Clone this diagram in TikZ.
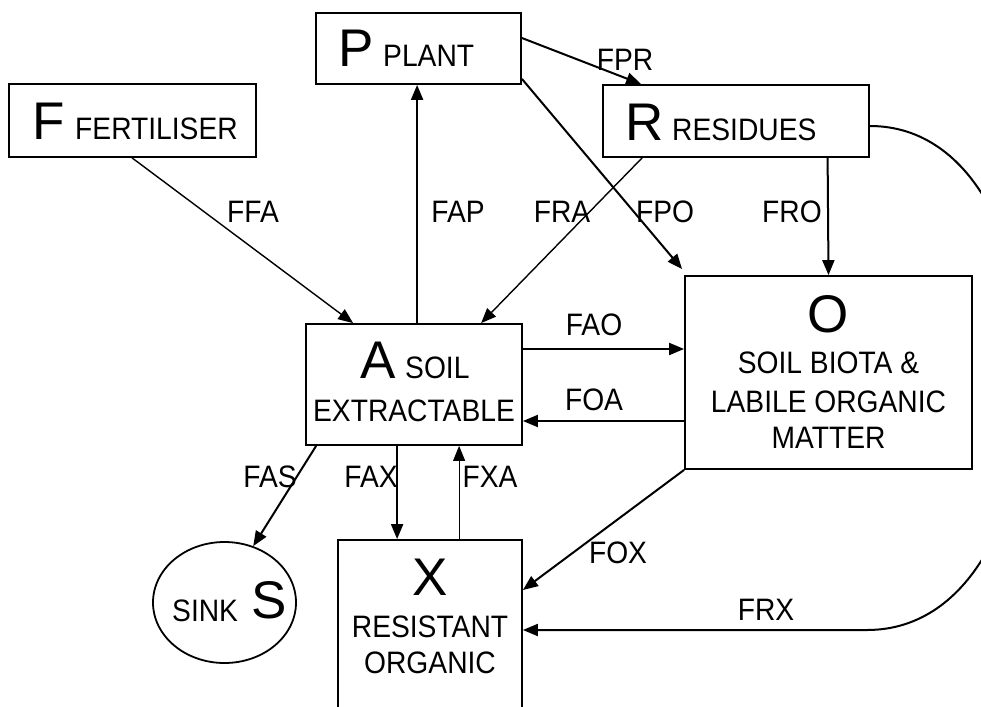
\documentclass[tikz,border=0pt]{standalone}
\usepackage{fontspec}
\setmainfont{Liberation Sans}[FakeStretch=0.91]
\newfontfamily\bigfam{Liberation Sans}
\usetikzlibrary{arrows.meta,shapes.geometric}
\begin{document}
\begin{tikzpicture}[x=1pt,y=-1pt,
  box/.style={draw, line width=1.8pt, rectangle, inner sep=0pt},
  flow/.style={line width=2pt, -{Triangle[length=15pt,width=12pt]}},
  thinflow/.style={flow, line width=1.4pt},
  lbl/.style={inner sep=0pt, font=\fontsize{31}{36}\selectfont},
  big/.style={inner sep=0pt, anchor=base west, font=\bigfam\fontsize{53}{60}\selectfont},
  sm/.style={inner sep=0pt, font=\fontsize{31}{36}\selectfont},
]
\useasboundingbox (0,0) rectangle (981,706);
\clip (0,0) rectangle (981,706);
\fill[white] (0,0) rectangle (981,706);

% boxes
\node[box, minimum width=205, minimum height=71] (P) at (418.5,48.5) {};
\node[box, minimum width=266, minimum height=72] (R) at (736,121) {};
\node[box, minimum width=247, minimum height=73] (F) at (132.5,120.5) {};
\node[box, minimum width=216, minimum height=121] (A) at (414,384.5) {};
\node[box, minimum width=287, minimum height=193] (O) at (828.5,372.5) {};
\node[box, minimum width=184, minimum height=220] (X) at (430,650) {};
\node[draw, line width=1.8pt, ellipse, inner sep=0pt, minimum width=143, minimum height=121] (S) at (224.5,602.5) {};

% box texts
\node[big] (tP) at (338,67) {P};
\node[sm, anchor=base west] (tPl) at (383,67) {PLANT};
\node[big] (tF) at (32,139) {F};
\node[sm, anchor=base west] (tFl) at (75,139) {FERTILISER};
\node[big] (tR) at (625,140) {R};
\node[sm, anchor=base west] (tRl) at (672,140) {RESIDUES};
\node[big] (tA) at (360,378) {A};
\node[sm, anchor=base west] (tAl) at (405,378) {SOIL};
\node[sm, anchor=base] (tAl2) at (414,421) {EXTRACTABLE};
\node[big, anchor=base] (tO) at (828.5,332) {O};
\node[sm, anchor=base] (tO1) at (828.5,373) {SOIL BIOTA \&};
\node[sm, anchor=base] (tO2) at (828.5,412) {LABILE ORGANIC};
\node[sm, anchor=base] (tO3) at (828.5,448) {MATTER};
\node[big, anchor=base] (tX) at (430,595) {X};
\node[sm, anchor=base] (tX1) at (430,637) {RESISTANT};
\node[sm, anchor=base] (tX2) at (430,673) {ORGANIC};
\node[sm, anchor=base west] (tS) at (172,621) {SINK};
\node[big] (tS2) at (251,618) {S};

% connectors
\draw[thinflow] ([xshift=124pt]F.south west) -- ([xshift=48pt]A.north west);
\draw[flow] ([xshift=112pt]A.north west) -- ([xshift=102pt]P.south west);
\draw[thinflow] ([xshift=40pt]R.south west) -- ([xshift=176pt]A.north west);
\draw[flow] ([yshift=6pt]P.south east) -- ([xshift=-2pt,yshift=6pt]O.north west);
\draw[flow] ([yshift=10.5pt]P.east) -- ([xshift=39pt]R.north west);
\draw[flow] ([xshift=225.5pt]R.south west) -- (O.north);
\draw[flow] ([yshift=35.5pt]A.east) -- ([yshift=23.5pt]O.west);
\draw[flow] ([yshift=-48.5pt]O.west) -- ([yshift=-36.5pt]A.east);
\draw[flow] ([xshift=11pt]A.south west) -- (S.63);
\draw[flow] ([xshift=92pt]A.south west) -- ([xshift=60pt]X.north west);
\draw[thinflow, line width=1pt] ([xshift=122pt]X.north west) -- ([xshift=154pt]A.south west);
\draw[flow] (O.south west) -- ([yshift=60pt]X.east);
\coordinate (frxc) at (867,630);
\draw[flow] ([yshift=-5pt]R.east) .. controls +(211,0) and +(213,0) .. (frxc) -- ([yshift=20pt]X.east);

% labels
\node[lbl] (lFPR) at (625,60) {FPR};
\node[lbl] (lFFA) at (253,212) {FFA};
\node[lbl] (lFAP) at (458,212) {FAP};
\node[lbl] (lFRA) at (562,212) {FRA};
\node[lbl] (lFPO) at (665,212) {FPO};
\node[lbl] (lFRO) at (792,212) {FRO};
\node[lbl] (lFAO) at (594,325) {FAO};
\node[lbl] (lFOA) at (594,400) {FOA};
\node[lbl] (lFAS) at (270,477) {FAS};
\node[lbl] (lFAX) at (371,477) {FAX};
\node[lbl] (lFXA) at (490,477) {FXA};
\node[lbl] (lFOX) at (618,553) {FOX};
\node[lbl] (lFRX) at (766,610) {FRX};
\end{tikzpicture}
\end{document}
